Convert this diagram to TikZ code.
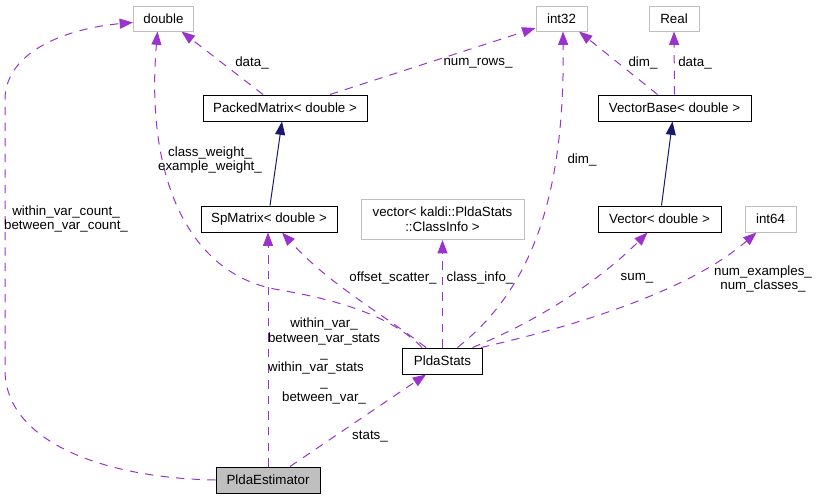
\documentclass[tikz,border=0pt]{standalone}
\usepackage{fontspec}
\setmainfont{Liberation Sans}
\usetikzlibrary{arrows.meta,calc}
\definecolor{edgep}{HTML}{9A32CD}
\definecolor{edgen}{HTML}{191970}
\definecolor{greyl}{HTML}{BFBFBF}
\def\rpx{0.75pt}
\begin{document}
\begin{tikzpicture}[x=0.75pt,y=-0.75pt,
  every node/.style={font=\fontsize{10pt}{11pt}\selectfont},
  cls/.style={draw=black, line width=0.75pt, inner sep=0pt, align=center},
  ext/.style={draw=greyl, line width=0.75pt, inner sep=0pt, align=center},
  usage/.style={draw=edgep, line width=0.75pt, dash pattern=on 6.2pt off 5.5pt, -{Triangle[length=10pt,width=7.5pt]}},
  inherit/.style={draw=edgen, line width=0.75pt, -{Triangle[length=10pt,width=7.5pt]}},
  lbl/.style={inner sep=0pt, align=center}
]
\useasboundingbox (0,0) rectangle (816,500);

% nodes
\node[ext, minimum width=60*\rpx, minimum height=25*\rpx] (dbl) at (163.5,18.5) {double};
\node[ext, minimum width=51*\rpx, minimum height=25*\rpx] (i32) at (561.5,18.5) {int32};
\node[ext, minimum width=50*\rpx, minimum height=25*\rpx] (real) at (674,18.5) {Real};
\node[cls, minimum width=164*\rpx, minimum height=26*\rpx] (pm) at (285,108) {PackedMatrix< double >};
\node[cls, minimum width=153*\rpx, minimum height=26*\rpx] (vb) at (674.5,108) {VectorBase< double >};
\node[cls, minimum width=136*\rpx, minimum height=26*\rpx] (sp) at (269,219) {SpMatrix< double >};
\node[ext, minimum width=163*\rpx, minimum height=40*\rpx] (vec) at (442.5,219.5) {vector< kaldi::PldaStats\\::ClassInfo >};
\node[cls, minimum width=123*\rpx, minimum height=26*\rpx] (vd) at (659.5,219) {Vector< double >};
\node[ext, minimum width=51*\rpx, minimum height=26*\rpx] (i64) at (770.5,219) {int64};
\node[cls, minimum width=80*\rpx, minimum height=26*\rpx] (ps) at (442.5,361) {PldaStats};
\node[cls, fill=greyl, minimum width=104*\rpx, minimum height=26*\rpx] (pe) at (268,480) {PldaEstimator};

% edges
\draw[usage] (pe.west) .. controls (100,478) and (5,440) .. (5,370) -- (5,100) .. controls (5,50) and (70,28) .. ($(dbl.west)+(0,4)$);
\draw[usage] ($(ps.north west)+(20,0)$) .. controls (395,320) and (350,302) .. (280,290) .. controls (190,276) and (145,180) .. ($(dbl.south)+(-6,0)$);
\draw[usage] ($(pm.north)+(-22,0)$) -- ($(dbl.south)+(18,0)$);
\draw[usage] ($(pm.north)+(45,0)$) -- ($(i32.west)+(0,9.5)$);
\draw[inherit] ($(sp.north)+(1,0)$) -- ($(pm.south)+(-3,0)$);
\draw[usage] (pe.north) -- ($(sp.south)+(-1,0)$);
\draw[usage] ($(ps.north west)+(24,0)$) .. controls (380,312) and (330,285) .. ($(sp.south)+(13,0)$);
\draw[usage] (ps.north) -- (vec.south);
\draw[usage] ($(ps.north)+(15,0)$) .. controls (530,290) and (565,200) .. ($(i32.south)+(1.5,0)$);
\draw[usage] ($(vb.north)+(-17,0)$) -- ($(i32.south east)+(-8.5,0)$);
\draw[usage] (vb.north) -- (real.south);
\draw[inherit] ($(vd.north)+(2,0)$) -- ($(vb.south)+(-2,0)$);
\draw[usage] ($(ps.north)+(30,0)$) .. controls (540,320) and (600,280) .. ($(vd.south)+(-12,0)$);
\draw[usage] ($(ps.north east)+(-2,0)$) .. controls (580,325) and (690,290) .. ($(i64.south west)+(12,0)$);
\draw[usage] ($(pe.north)+(22,0)$) -- ($(ps.south west)+(24,0)$);

% labels
\node[lbl] (l1) at (66,219) {within\_var\_count\_\\between\_var\_count\_};
\node[lbl] (l2) at (210,160) {class\_weight\_\\example\_weight\_};
\node[lbl] (l3) at (252,63) {data\_};
\node[lbl] (l4) at (478,63) {num\_rows\_};
\node[lbl] (l5) at (643,63) {dim\_};
\node[lbl] (l6) at (695,63) {data\_};
\node[lbl] (l7) at (582,160) {dim\_};
\node[lbl] (l8) at (393,278) {offset\_scatter\_};
\node[lbl] (l9) at (480,278) {class\_info\_};
\node[lbl] (l10) at (637,278) {sum\_};
\node[lbl] (l11) at (763,279) {num\_examples\_\\num\_classes\_};
\node[lbl] (l12) at (324,361) {within\_var\_\\between\_var\_stats\\\_\\within\_var\_stats\rule{12pt}{0pt}\\\_\\between\_var\_};
\node[lbl] (l13) at (370,437) {stats\_};
\end{tikzpicture}
\end{document}
